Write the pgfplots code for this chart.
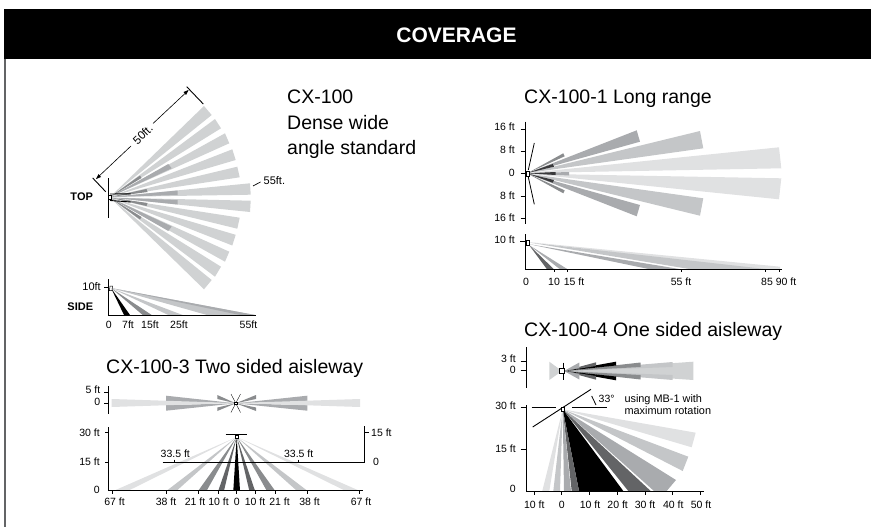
\documentclass[border=0pt]{standalone}
\usepackage{fontspec}
\setmainfont{Liberation Sans}
\usepackage{pgfplots}
\pgfplotsset{compat=1.18}
\definecolor{g1}{HTML}{E0E1E2}
\definecolor{g2}{HTML}{D0D2D3}
\definecolor{g3}{HTML}{C4C6C8}
\definecolor{g4}{HTML}{A9ABAE}
\definecolor{g5}{HTML}{8A8C8E}
\definecolor{g6}{HTML}{636466}
\definecolor{g7}{HTML}{3A3A3C}
% filled wedge / polygon, coordinates in reference pixels
\newcommand{\band}[2]{\addplot[fill=#1,draw=none] coordinates {#2} --cycle;}
% black rule
\newcommand{\rl}[2][0.9pt]{\addplot[black,line width=#1] coordinates {#2};}
\newcommand{\tl}[3]{\node[anchor=east,inner sep=0pt] at (axis cs:#1,#2) {\fontsize{10.5}{12}\selectfont #3};}
\newcommand{\tc}[3]{\node[anchor=center,inner sep=0pt] at (axis cs:#1,#2) {\fontsize{10.5}{12}\selectfont #3};}
\newcommand{\head}[3]{\node[anchor=base west,inner sep=0pt] at (axis cs:#1,#2) {\fontsize{19.5}{22}\selectfont #3};}
\begin{document}
\begin{tikzpicture}
\begin{axis}[
  scale only axis, width=871pt, height=527pt,
  xmin=0, xmax=871, ymin=0, ymax=527, y dir=reverse,
  axis lines=none, clip=true,
]
% frame and title bar
\band{black}{(4,9) (871,9) (871,59) (4,59)}
\band{g6}{(4,59) (6,59) (6,527) (4,527)}
\node[white,inner sep=0pt] at (axis cs:456.5,35) {\fontsize{21}{24}\selectfont\bfseries COVERAGE};

% ---- CX-100 top
\band{g2}{(110,197) (204,106) (211.7,115)}
\band{g2}{(110,197) (215,119) (221,128.3)}
\band{g2}{(110,197) (225,133.3) (229.3,143.3)}
\band{g2}{(110,197) (232.3,149.3) (235.7,160)}
\band{g2}{(110,197) (237.3,166.7) (239.7,177.3)}
\band{g2}{(110,197) (250,183.3) (250.7,194.7)}
\band{g2}{(110,197.6) (250.7,200.7) (250,212)}
\band{g2}{(110,197.6) (239.7,217.7) (237.3,228.7)}
\band{g2}{(110,197.6) (235.7,234.8) (232.3,245.5)}
\band{g2}{(110,197.6) (229.3,251.7) (225,261.7)}
\band{g2}{(110,197.6) (221,266.7) (215,276.7)}
\band{g2}{(110,197.6) (211.7,280) (204,289.3)}
\band{g4}{(110,197) (177.7,190.5) (177.7,195)}
\band{g4}{(110,197.6) (177.7,200) (177.7,204.5)}
\band{g4}{(110,197) (168.3,164) (171.7,168.3)}
\band{g4}{(110,197.6) (171.7,226.5) (168.3,231)}
\band{g5}{(110,197) (140,175.5) (141.5,178)}
\band{g5}{(110,197.6) (141.5,217) (140,219.5)}
\band{g5}{(110,197) (146.5,189) (147.5,192)}
\band{g5}{(110,197.6) (147.5,203) (146.5,206)}
\rl{(110,194) (130.7,193.8)}
\rl{(110,200.5) (130.7,202)}
\rl[1pt]{(108.7,178) (108.7,217.5)}
\addplot[black,fill=white,line width=0.6pt] coordinates {(108.7,195) (111.5,195) (111.5,199.5) (108.7,199.5)} --cycle;
\rl{(92.7,178) (105.7,191.7)}
\rl{(186.7,86.7) (203.3,104)}
\rl[0.6pt]{(96.5,178.5) (131,146)}
\rl[0.6pt]{(153,123.5) (188,90.7)}
\band{black}{(188.5,90) (183.5,92) (186,95)}
\band{black}{(96,179) (101,177) (98.5,174)}
\node[rotate=44,inner sep=0pt] at (axis cs:142.7,134.5) {\fontsize{11.5}{12}\selectfont 50ft.};
\rl[0.7pt]{(253,186) (260.5,182)}
\node[anchor=west,inner sep=0pt] at (axis cs:263.5,180.7) {\fontsize{11}{12}\selectfont 55ft.};
\node[inner sep=0pt] at (axis cs:81.7,197) {\fontsize{11}{12}\selectfont\bfseries TOP};
\head{287}{103.5}{CX-100}
\head{287}{129.5}{Dense wide}
\head{287}{154.5}{angle standard}

% ---- CX-100 side
\band{g3}{(111,288) (255,315) (207,315)}
\band{g4}{(111,288) (255,315) (240,315)}
\band{g3}{(111,288) (182.7,315) (168.3,315)}
\band{g5}{(111,288) (151.7,315) (142.7,315)}
\band{black}{(111,288) (130,315) (124,315)}
\rl[1pt]{(108.7,279) (108.7,315) (255.7,315)}
\rl[0.8pt]{(104.3,287.3) (108.7,287.3)}
\addplot[black,fill=white,line width=0.5pt] coordinates {(110,286) (112.5,286) (112,290.5) (109.5,290.5)} --cycle;
\node[anchor=east,inner sep=0pt] at (axis cs:101,287) {\fontsize{11}{12}\selectfont 10ft};
\node[inner sep=0pt] at (axis cs:80.3,307) {\fontsize{11}{12}\selectfont\bfseries SIDE};
\tc{108.7}{325}{0}
\tc{128}{325}{7ft}
\tc{150}{325}{15ft}
\tc{179}{325}{25ft}
\tc{248.5}{325}{55ft}

% ---- CX-100-1 top
\head{524}{103.5}{CX-100-1 Long range}
\band{g4}{(527.7,173) (636.7,130.3) (640,141.7)}
\band{g4}{(527.7,173.6) (640,205) (636.7,216.3)}
\band{g3}{(527.7,173) (700,131) (703.3,148.3)}
\band{g3}{(527.7,173.6) (703.3,198.3) (700,215.7)}
\band{g1}{(527.7,173) (779,147.3) (781.3,168.3)}
\band{g1}{(527.7,173.6) (781.3,178.3) (779,199.3)}
\band{g5}{(527.7,173) (563.3,153.3) (564.7,156.3)}
\band{g5}{(527.7,173.6) (564.7,190.3) (563.3,193.3)}
\band{g7}{(527.7,173) (552.7,164) (554,166.7)}
\band{g7}{(527.7,173.6) (554,180) (552.7,182.7)}
\band{g4}{(527.7,173.3) (569,172) (569,175.5)}
\band{g7}{(527.7,173.3) (555.7,172) (555.7,175)}
\rl[1.5pt]{(525.7,121.7) (525.7,224)}
\rl{(520.7,129) (525.7,129)}
\rl{(520.7,151) (525.7,151)}
\rl{(520.7,173.3) (525.7,173.3)}
\rl{(520.7,196) (525.7,196)}
\rl{(520.7,218) (525.7,218)}
\addplot[black,fill=white,line width=0.6pt] coordinates {(526.5,171) (529.5,171) (529.5,176) (526.5,176)} --cycle;
\rl[0.8pt]{(534.3,143) (528.3,170)}
\rl[0.8pt]{(534.3,204.3) (528.3,177)}
\tl{515}{127}{16 ft}
\tl{515}{150}{8 ft}
\tl{515}{173.3}{0}
\tl{515}{196}{8 ft}
\tl{515}{218}{16 ft}

% ---- CX-100-1 side
\band{g1}{(528,242) (780,266.7) (780,269.3) (755,269.3)}
\band{g3}{(528,242.3) (768,269.3) (691,269.3)}
\band{g4}{(528,244) (681,269.3) (650,269.3)}
\band{g4}{(529,245) (567.7,269.3) (560,269.3)}
\band{g6}{(529,245) (554,269.3) (547,269.3)}
\rl[1pt]{(525.7,234) (525.7,269.3) (781.7,269.3)}
\rl[1.2pt]{(520,241.7) (525.7,241.7)}
\addplot[black,fill=white,line width=0.6pt] coordinates {(526.7,240) (529.5,240) (529.5,245.3) (526.7,245.3)} --cycle;
\rl{(554,269.3) (554,272)}
\rl{(567.7,269.3) (567.7,272)}
\rl{(681,269.3) (681,272)}
\rl{(765,269.3) (765,272)}
\rl{(779,269.3) (779,272)}
\tl{515}{240}{10 ft}
\tc{526}{281.7}{0}
\tc{554}{281.7}{10}
\tc{574}{281.7}{15 ft}
\tc{681}{281.7}{55 ft}
\tc{767}{281.7}{85}
\tc{786}{281.7}{90 ft}

% ---- CX-100-3 top
\head{106}{373}{CX-100-3 Two sided aisleway}
\band{g4}{(235.7,403.3) (307.3,395.7) (307.3,401.5)}
\band{g4}{(235.7,403.3) (307.3,405.2) (307.3,410.7)}
\band{g4}{(235.7,403.3) (166,395.7) (166,401.5)}
\band{g4}{(235.7,403.3) (166,405.2) (166,410.7)}
\band{g1}{(235.7,403) (360,399) (360,407)}
\band{g1}{(235.7,403) (111.7,399) (111.7,407)}
\band{g5}{(235.7,403.3) (256,395) (256,399)}
\band{g5}{(235.7,403.3) (256,407.5) (256,411)}
\band{g5}{(235.7,403.3) (217.3,395) (217.3,399)}
\band{g5}{(235.7,403.3) (217.3,407.5) (217.3,411)}
\rl[0.35pt]{(231,394) (240.5,412.5)}
\rl[0.35pt]{(240.5,394) (231,412.5)}
\addplot[black,fill=white,line width=0.7pt] coordinates {(234.3,402) (237,402) (237,404.6) (234.3,404.6)} --cycle;
\rl[0.9pt]{(108.3,386) (108.3,414.3)}
\rl{(104,392.7) (108.3,392.7)}
\rl{(104,403.3) (108.3,403.3)}
\tl{100.5}{389.5}{5 ft}
\tl{100.5}{401.5}{0}

% ---- CX-100-3 side
\band{g1}{(236.7,437) (359.3,490.7) (345,490.7)}
\band{g1}{(236.7,437) (128.3,490.7) (114,490.7)}
\band{g3}{(236.7,437) (307.3,490.7) (296.7,490.7)}
\band{g3}{(236.7,437) (176.7,490.7) (166.7,490.7)}
\band{g5}{(236.7,437) (275,490.7) (266.7,490.7)}
\band{g5}{(236.7,437) (206.7,490.7) (198.3,490.7)}
\band{g6}{(236.7,437) (255,490.7) (249.3,490.7)}
\band{g6}{(236.7,437) (224,490.7) (218.3,490.7)}
\band{black}{(236.7,437) (240,490.7) (233.3,490.7)}
\rl[1pt]{(108.7,427.3) (108.7,490.7) (363.3,490.7)}
\rl[0.9pt]{(162.7,462.7) (365,462.7)}
\rl[1pt]{(364.7,426) (364.7,462.7)}
\rl[0.7pt]{(364.7,432.7) (368.5,432.7)}
\rl[0.7pt]{(105,432.7) (108.7,432.7)}
\rl[0.7pt]{(105,462.7) (108.7,462.7)}
\rl[0.7pt]{(174.7,459.5) (174.7,462.7)}
\rl[0.7pt]{(298.7,459.5) (298.7,462.7)}
\rl[0.9pt]{(225.7,434.7) (247.3,434.7)}
\addplot[black,fill=white,line width=0.6pt] coordinates {(235,435) (238.3,435) (238.3,438) (235,438)} --cycle;
\foreach \xx in {112.3,166.7,198,218,236.7,255,275.7,307.3,359.3}{
  \edef\tmp{\noexpand\rl[0.7pt]{(\xx,490.7) (\xx,494)}}\tmp
}
\tl{100}{432.5}{30 ft}
\tl{100}{462}{15 ft}
\tl{100}{490}{0}
\node[anchor=west,inner sep=0pt] at (axis cs:371,432.5) {\fontsize{10.5}{12}\selectfont 15 ft};
\tc{376}{461.5}{0}
\tc{175.3}{453.3}{33.5 ft}
\tc{298.7}{453.3}{33.5 ft}
\tc{114.5}{502}{67 ft}
\tc{166}{502}{38 ft}
\tc{195}{502}{21 ft}
\tc{218.5}{502}{10 ft}
\tc{236.7}{502}{0}
\tc{255}{502}{10 ft}
\tc{279.5}{502}{21 ft}
\tc{309.5}{502}{38 ft}
\tc{361}{502}{67 ft}

% ---- CX-100-4 top
\head{524}{336.5}{CX-100-4 One sided aisleway}
\band{g2}{(562,371) (549.3,361.7) (549.3,380)}
\band{g2}{(562,371) (693.3,361.7) (693.3,380)}
\band{g3}{(564,371) (672.7,362) (672.7,367)}
\band{g3}{(564,371) (672.7,375) (672.7,380)}
\band{g5}{(564,371) (640.7,362.5) (640.7,367)}
\band{g5}{(564,371) (640.7,375) (640.7,379.5)}
\band{black}{(564,371) (616,361.7) (616,365.5)}
\band{black}{(564,371) (616,376.5) (616,380.3)}
\band{g6}{(564,371) (596,362.3) (596,366)}
\band{g6}{(564,371) (596,376) (596,379.7)}
\band{g4}{(564,371) (579.3,362.5) (579.3,368)}
\band{g4}{(564,371) (579.3,374) (579.3,379.5)}
\rl[0.35pt]{(563,362.5) (563,379.5)}
\addplot[black,fill=white,line width=0.7pt] coordinates {(559.7,368.7) (564.3,368.7) (564.3,373.3) (559.7,373.3)} --cycle;
\rl[0.9pt]{(526.3,347.3) (526.3,388.3)}
\rl[0.8pt]{(520.5,361) (526.3,361)}
\rl[0.8pt]{(520.5,370.7) (526.3,370.7)}
\tl{516}{359}{3 ft}
\tl{516}{369.7}{0}

% ---- CX-100-4 side
\band{g1}{(562.7,409.3) (695.7,432.7) (691.7,447.3)}
\band{g3}{(562.7,409.3) (688.3,456.7) (682.7,471)}
\band{g4}{(562.7,409.3) (676,480) (666.7,491) (654,491)}
\band{g6}{(562.7,409.3) (650.7,491) (628.3,491)}
\band{black}{(562.7,409.3) (623.3,491) (579,491)}
\band{g6}{(562.7,409.3) (579,491) (571.7,491)}
\band{g4}{(562.7,409.3) (571,491) (564,491)}
\band{g3}{(562.7,409.3) (560,491) (553.3,491)}
\band{g1}{(562.7,409.3) (549.3,491) (542.3,491)}
\rl[0.9pt]{(526.3,405) (526.3,491) (704,491)}
\rl[0.8pt]{(520.5,407.7) (526.3,407.7)}
\rl[0.8pt]{(520.5,449) (526.3,449)}
\rl[0.8pt]{(531.7,407.7) (555.7,407.7)}
\rl[0.8pt]{(572.3,407.7) (607.3,407.7)}
\rl[0.9pt]{(532.7,427) (591,389.3)}
\rl[0.8pt]{(591.7,396) (596,405)}
\addplot[black,fill=white,line width=0.7pt] coordinates {(561,407.5) (564.5,407.5) (564.5,411) (561,411)} --cycle;
\foreach \xx in {534,561.7,589.3,617.3,645,672.7,700.7}{
  \edef\tmp{\noexpand\rl[0.8pt]{(\xx,491) (\xx,494.5)}}\tmp
}
\tl{516}{405.7}{30 ft}
\tl{516}{449}{15 ft}
\tl{516}{489}{0}
\node[anchor=west,inner sep=0pt] at (axis cs:598.5,399.3) {\fontsize{10.5}{12}\selectfont 33°};
\node[anchor=west,inner sep=0pt] at (axis cs:624.3,399.3) {\fontsize{10.9}{12}\selectfont using MB-1 with};
\node[anchor=west,inner sep=0pt] at (axis cs:624.3,410.7) {\fontsize{10.9}{12}\selectfont maximum rotation};
\tc{534.3}{505}{10 ft}
\tc{561.7}{505}{0}
\tc{590}{505}{10 ft}
\tc{617.7}{505}{20 ft}
\tc{645}{505}{30 ft}
\tc{673.3}{505}{40 ft}
\tc{701}{505}{50 ft}
\end{axis}
\path (0,0) rectangle (871pt,527pt);
\end{tikzpicture}
\end{document}
